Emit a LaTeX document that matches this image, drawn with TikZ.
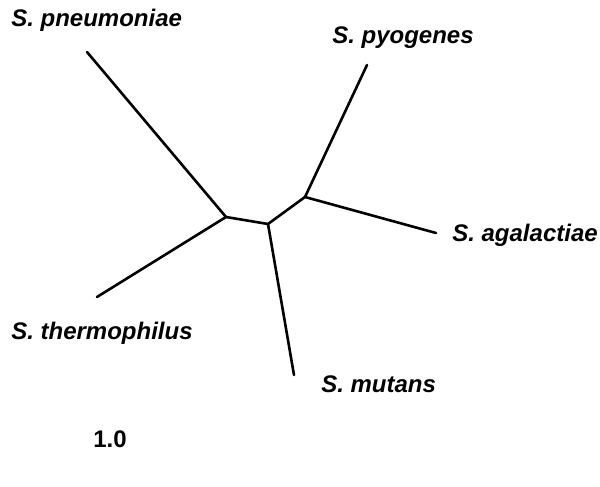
\documentclass[tikz,border=0pt]{standalone}
\usepackage{fontspec}
\setmainfont{Liberation Sans}
\usepackage{tikz}
\usetikzlibrary{positioning}

\begin{document}
\begin{tikzpicture}[x=1pt, y=-1pt, line width=2.6pt, line cap=round,
    taxon/.style={anchor=base west, inner sep=0pt, font=\fontsize{24}{27}\selectfont\bfseries\itshape}]
            \useasboundingbox (0,0) rectangle (600,487);
            \coordinate (n1) at (226, 217);
            \coordinate (n2) at (268, 224);
            \coordinate (n3) at (305, 197);
            \coordinate (pneu) at (87, 52);
            \coordinate (pyo) at (367, 65);
            \coordinate (aga) at (436, 233);
            \coordinate (therm) at (97, 297);
            \coordinate (mut) at (294, 375);

            \node[taxon] (lpneu) at (10, 27) {S. pneumoniae};
            \node[taxon] (lpyo) at (331, 44) {S. pyogenes};
            \node[taxon] (laga) at (451, 241) {S. agalactiae};
            \node[taxon] (ltherm) at (10, 339) {S. thermophilus};
            \node[taxon] (lmut) at (320, 392) {S. mutans};
            \node[taxon, font=\fontsize{24}{27}\selectfont\bfseries] (scale) at (92, 447) {1.0};

            \path
            (n1) edge (pneu)
            (n1) edge (therm)
            (n1) edge (n2)
            (n2) edge (mut)
            (n2) edge (n3)
            (n3) edge (pyo)
            (n3) edge (aga);
        \end{tikzpicture}
\end{document}
